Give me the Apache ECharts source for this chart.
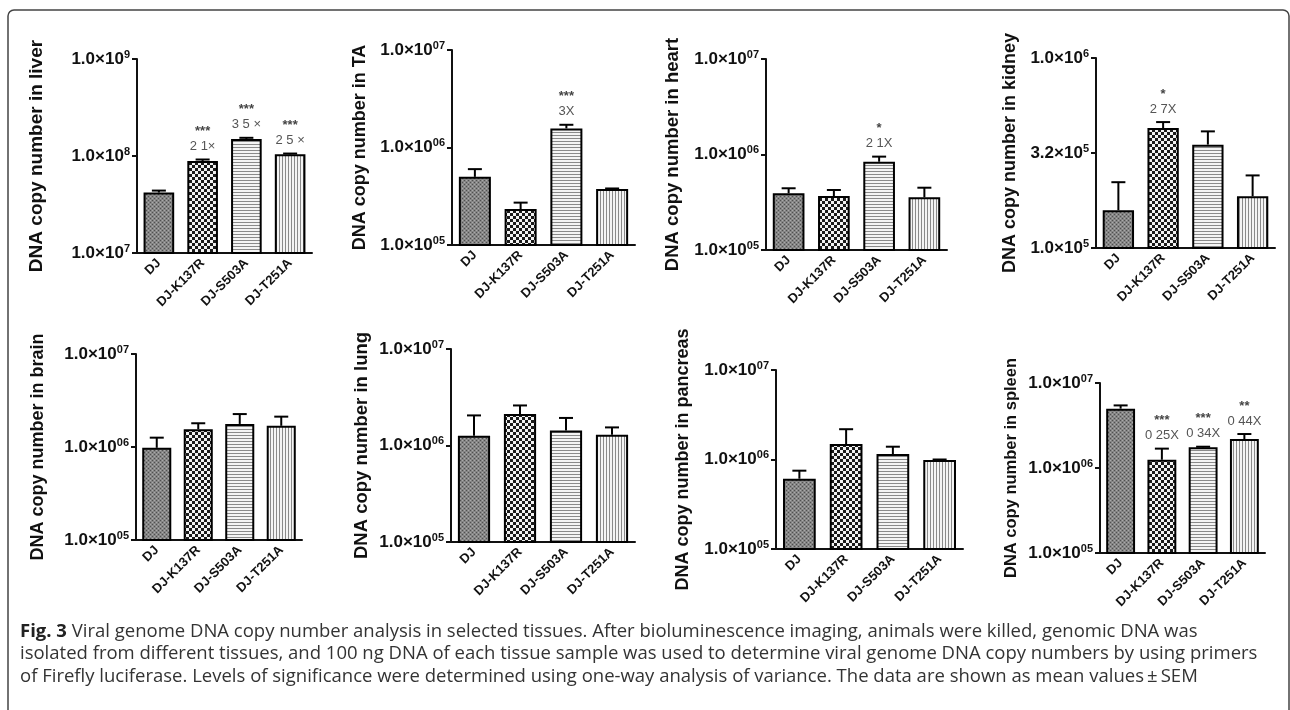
<!DOCTYPE html>
<html><head><meta charset="utf-8">
<script src="https://cdn.jsdelivr.net/npm/echarts@6/dist/echarts.min.js"></script>
<style>html,body{margin:0;padding:0;background:#fff}#c{width:1290px;height:710px}</style>
</head><body><div id="c"></div>
<script>
// ---------- DATA ----------
const categories = ['DJ', 'DJ-K137R', 'DJ-S503A', 'DJ-T251A'];
const tissues = ['liver', 'TA', 'heart', 'kidney', 'brain', 'lung', 'pancreas', 'spleen'];

const liverMean = [4.2e7, 8.9e7, 1.50e8, 1.04e8];
const liverSem  = [2.0e6, 3.0e6, 4.0e6, 2.0e6];
const taMean    = [5.0e5, 2.34e5, 1.57e6, 3.75e5];
const taSem     = [1.0e5, 0.38e5, 0.14e6, 0.05e5];
const heartMean = [3.93e5, 3.67e5, 8.4e5, 3.56e5];
const heartSem  = [0.50e5, 0.58e5, 1.1e5, 0.93e5];
const kidneyMean = [1.58e5, 4.28e5, 3.5e5, 1.87e5];
const kidneySem  = [0.64e5, 0.32e5, 0.61e5, 0.54e5];
const brainMean = [0.98e6, 1.55e6, 1.77e6, 1.69e6];
const brainSem  = [0.28e6, 0.25e6, 0.49e6, 0.43e6];
const lungMean  = [1.26e6, 2.12e6, 1.43e6, 1.29e6];
const lungSem   = [0.79e6, 0.48e6, 0.50e6, 0.25e6];
const pancreasMean = [6.1e5, 1.49e6, 1.15e6, 0.99e6];
const pancreasSem  = [1.4e5, 0.69e6, 0.24e6, 0.01e6];
const spleenMean = [4.99e6, 1.25e6, 1.75e6, 2.19e6];
const spleenSem  = [0.46e6, 0.44e6, 0.03e6, 0.32e6];

// tick labels: [mantissa, exponent]
const liverTicks  = [['1.0', '7'], ['1.0', '8'], ['1.0', '9']];
const decadeTicks = [['1.0', '05'], ['1.0', '06'], ['1.0', '07']];
const kidneyTicks = [['1.0', '5'], ['3.2', '5'], ['1.0', '6']];

const liverStars = ['', '***', '***', '***'];
const liverFold  = ['', '2 1\u00d7', '3 5 \u00d7', '2 5 \u00d7'];
const taStars = ['', '', '***', ''];
const taFold  = ['', '', '3X', ''];
const heartStars = ['', '', '*', ''];
const heartFold  = ['', '', '2 1X', ''];
const kidneyStars = ['', '*', '', ''];
const kidneyFold  = ['', '2 7X', '', ''];
const spleenStars = ['', '***', '***', '**'];
const spleenFold  = ['', '0 25X', '0 34X', '0 44X'];
const noMarks = ['', '', '', ''];

const captionBold = 'Fig. 3';
const captionLines = [
  ' Viral genome DNA copy number analysis in selected tissues. After bioluminescence imaging, animals were killed, genomic DNA was',
  'isolated from different tissues, and 100 ng DNA of each tissue sample was used to determine viral genome DNA copy numbers by using primers',
  'of Firefly luciferase. Levels of significance were determined using one-way analysis of variance. The data are shown as mean values\u2009\u00b1\u2009SEM'
];

const panels = [
  {mean: liverMean, sem: liverSem, ticks: liverTicks, min: 1e7, max: 1e9, base: 10, stars: liverStars, fold: liverFold},
  {mean: taMean, sem: taSem, ticks: decadeTicks, min: 1e5, max: 1e7, base: 10, stars: taStars, fold: taFold},
  {mean: heartMean, sem: heartSem, ticks: decadeTicks, min: 1e5, max: 1e7, base: 10, stars: heartStars, fold: heartFold},
  {mean: kidneyMean, sem: kidneySem, ticks: kidneyTicks, min: 1e5, max: 1e6, base: Math.sqrt(10), stars: kidneyStars, fold: kidneyFold},
  {mean: brainMean, sem: brainSem, ticks: decadeTicks, min: 1e5, max: 1e7, base: 10, stars: noMarks, fold: noMarks},
  {mean: lungMean, sem: lungSem, ticks: decadeTicks, min: 1e5, max: 1e7, base: 10, stars: noMarks, fold: noMarks},
  {mean: pancreasMean, sem: pancreasSem, ticks: decadeTicks, min: 1e5, max: 1e7, base: 10, stars: noMarks, fold: noMarks},
  {mean: spleenMean, sem: spleenSem, ticks: decadeTicks, min: 1e5, max: 1e7, base: 10, stars: spleenStars, fold: spleenFold}
];

// ---------- LAYOUT ----------
const layout = [
  {left: 137, top: 59, width: 175, height: 194, titleX: 37, titleSize: 19},
  {left: 452, top: 50, width: 183, height: 195, titleX: 360, titleSize: 18},
  {left: 766, top: 59, width: 181, height: 191, titleX: 673, titleSize: 18.5},
  {left: 1096, top: 58, width: 179, height: 190, titleX: 1010, titleSize: 18},
  {left: 136, top: 354, width: 166, height: 186, titleX: 38, titleSize: 18},
  {left: 451, top: 349, width: 184, height: 193, titleX: 362, titleSize: 18.5},
  {left: 776, top: 370, width: 187, height: 179, titleX: 683, titleSize: 18},
  {left: 1100, top: 383, width: 165, height: 170, titleX: 1012, titleSize: 16.5}
];

const FONT = 'Liberation Sans, Arial, sans-serif';

function makePattern(kind) {
  const c = document.createElement('canvas');
  const ctx = c.getContext('2d');
  if (kind === 0) {
    c.width = 4; c.height = 4;
    ctx.fillStyle = '#858585'; ctx.fillRect(0, 0, 4, 4);
    ctx.fillStyle = '#505050'; ctx.fillRect(0, 0, 1, 1); ctx.fillRect(2, 2, 1, 1);
    ctx.fillStyle = '#aaaaaa'; ctx.fillRect(2, 0, 1, 1); ctx.fillRect(0, 2, 1, 1);
  } else if (kind === 1) {
    c.width = 6; c.height = 6;
    ctx.fillStyle = '#1a1a1a'; ctx.fillRect(0, 0, 6, 6);
    ctx.fillStyle = '#f2f2f2'; ctx.fillRect(0, 0, 3, 3); ctx.fillRect(3, 3, 3, 3);
  } else if (kind === 2) {
    c.width = 4; c.height = 3;
    ctx.fillStyle = '#f4f4f4'; ctx.fillRect(0, 0, 4, 3);
    ctx.fillStyle = '#8a8a8a'; ctx.fillRect(0, 0, 4, 1);
  } else {
    c.width = 3; c.height = 4;
    ctx.fillStyle = '#f4f4f4'; ctx.fillRect(0, 0, 3, 4);
    ctx.fillStyle = '#8a8a8a'; ctx.fillRect(0, 0, 1, 4);
  }
  return c;
}
const patterns = [0, 1, 2, 3].map(makePattern);

const grids = [], xAxes = [], yAxes = [], series = [];
panels.forEach(function (p, k) {
  const L = layout[k];
  grids.push({left: L.left, top: L.top, width: L.width, height: L.height, containLabel: false, outerBoundsMode: 'none'});
  xAxes.push({
    type: 'category', gridIndex: k, data: categories,
    axisLine: {lineStyle: {color: '#111', width: 2}},
    axisTick: {alignWithLabel: true, length: 5, lineStyle: {color: '#111', width: 2}},
    axisLabel: {rotate: 45, margin: 8, fontSize: 13, fontWeight: 'bold', color: '#111', fontFamily: FONT, interval: 0}
  });
  yAxes.push({
    type: 'log', gridIndex: k, logBase: p.base, min: p.min, max: p.max, interval: 1,
    name: 'DNA copy number in ' + tissues[k], nameLocation: 'middle', nameRotate: 90,
    nameGap: L.left - L.titleX - L.titleSize / 2,
    nameTextStyle: {fontWeight: 'bold', fontSize: L.titleSize, color: '#111', fontFamily: FONT},
    splitLine: {show: false}, minorTick: {show: false},
    axisLine: {show: true, lineStyle: {color: '#111', width: 2}},
    axisTick: {show: true, length: 5, lineStyle: {color: '#111', width: 2}},
    axisLabel: {
      margin: 7, color: '#111',
      formatter: function (v, i) { const t = p.ticks[i] || ['', '']; return '{b|' + t[0] + '\u00d710}{s|' + t[1] + '}'; },
      rich: {
        b: {fontSize: 17, fontWeight: 'bold', fontFamily: FONT, color: '#111'},
        s: {fontSize: 11, fontWeight: 'bold', fontFamily: FONT, color: '#111', verticalAlign: 'bottom', padding: [0, 0, 9, 0]}
      }
    }
  });
  series.push({
    type: 'bar', xAxisIndex: k, yAxisIndex: k, barCategoryGap: '30%', clip: true,
    data: p.mean.map(function (v, i) {
      return {value: v, itemStyle: {color: {image: patterns[i], repeat: 'repeat'}, borderColor: '#000', borderWidth: 2}};
    }),
    silent: true
  });
  series.push({
    type: 'custom', xAxisIndex: k, yAxisIndex: k, z: 5, silent: true,
    data: p.mean.map(function (v, i) { return [i, v, v + p.sem[i]]; }),
    renderItem: function (params, api) {
      const i = api.value(0);
      const p1 = api.coord([i, api.value(1)]);
      const p2 = api.coord([i, api.value(2)]);
      const st = {stroke: '#000', lineWidth: 2};
      const children = [
        {type: 'line', shape: {x1: p1[0], y1: p1[1], x2: p2[0], y2: p2[1]}, style: st},
        {type: 'line', shape: {x1: p2[0] - 7, y1: p2[1], x2: p2[0] + 7, y2: p2[1]}, style: st}
      ];
      const fold = p.fold[params.dataIndex], stars = p.stars[params.dataIndex];
      if (fold) children.push({type: 'text', style: {text: fold, x: p2[0], y: p2[1] - 13, align: 'center', verticalAlign: 'middle', fill: '#555', fontSize: 13, fontFamily: FONT}});
      if (stars) children.push({type: 'text', style: {text: stars, x: p2[0], y: p2[1] - 28, align: 'center', verticalAlign: 'middle', fill: '#444', fontSize: 13, fontWeight: 'bold', fontFamily: FONT}});
      return {type: 'group', children: children};
    }
  });
});

const graphics = [
  {type: 'rect', shape: {x: 8, y: 10, width: 1281, height: 720, r: 6}, style: {fill: 'none', stroke: '#444', lineWidth: 1.5}, silent: true}
];
captionLines.forEach(function (line, i) {
  const txt = i === 0 ? '{b|' + captionBold + '}{r|' + line + '}' : '{r|' + line + '}';
  graphics.push({
    type: 'text', left: 20, top: 622 + i * 22.5, silent: true,
    style: {
      text: txt,
      rich: {
        b: {fontSize: 18.5, fontWeight: 'bold', fontFamily: 'Open Sans, sans-serif', fill: '#222'},
        r: {fontSize: 18.5, fontFamily: 'Open Sans, sans-serif', fill: '#333'}
      }
    }
  });
});

const chart = echarts.init(document.getElementById('c'), null, {renderer: 'canvas'});
chart.setOption({
  animation: false,
  backgroundColor: '#fff',
  grid: grids, xAxis: xAxes, yAxis: yAxes, series: series,
  graphic: graphics
});
</script></body></html>
